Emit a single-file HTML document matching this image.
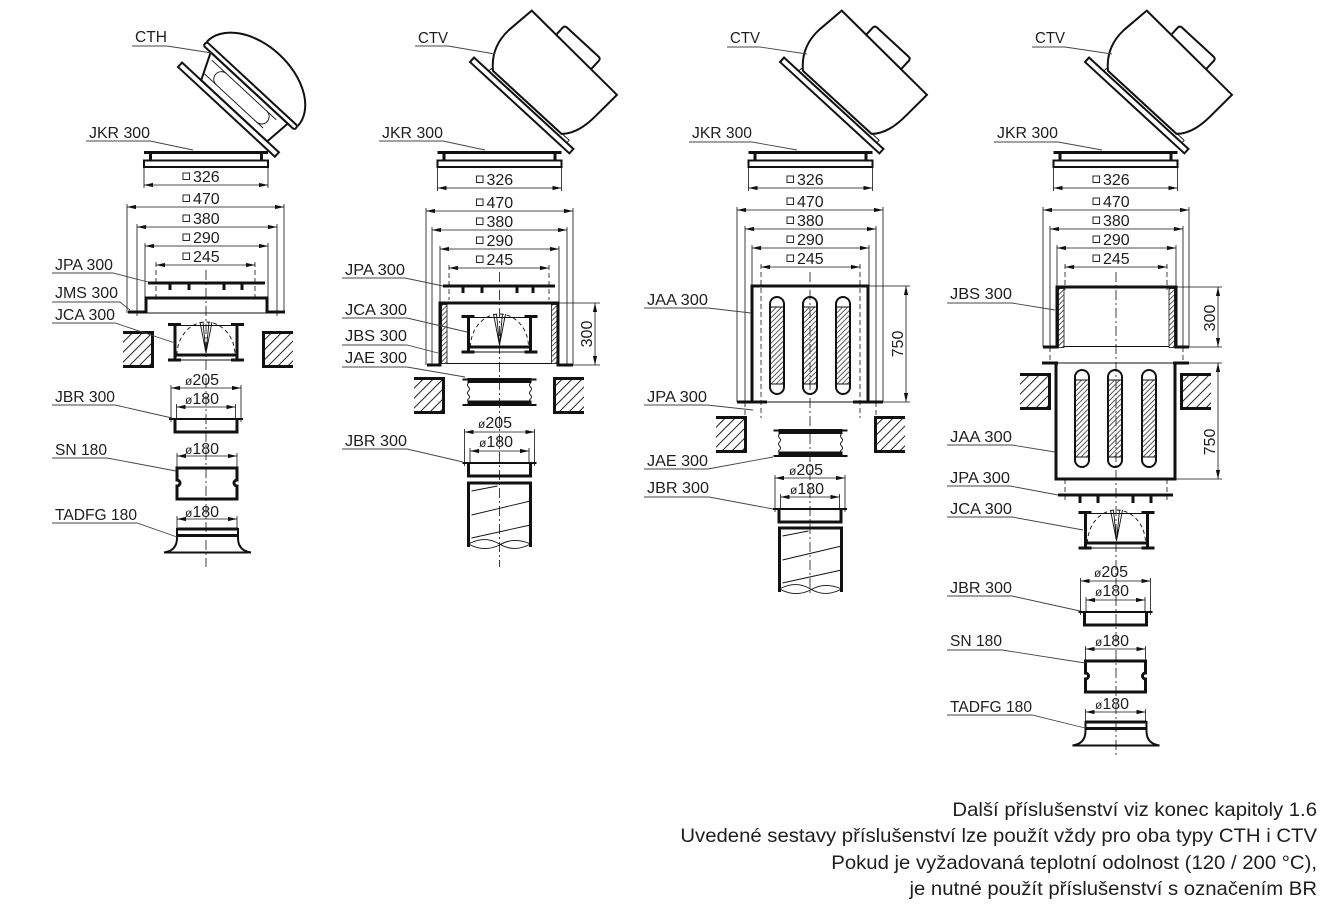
<!DOCTYPE html>
<html><head><meta charset="utf-8">
<style>
html,body{margin:0;padding:0;background:#fff;}
svg{display:block;}
text{font-family:"Liberation Sans",Arial,sans-serif;fill:#1e1e1e;}
.lbl{font-size:16px;}
.dm{font-size:16px;}
.th{stroke:#111;stroke-width:3;fill:none;}
.md{stroke:#111;stroke-width:2;fill:none;}
.tn{stroke:#111;stroke-width:0.9;fill:none;}
.ul{stroke:#444;stroke-width:0.9;fill:none;}
.dim{stroke:#111;stroke-width:0.8;fill:none;marker-start:url(#ar);marker-end:url(#ar);}
.ext{stroke:#111;stroke-width:0.8;fill:none;}
.dsh{stroke:#111;stroke-width:0.8;fill:none;stroke-dasharray:5 3;}
.cl{stroke:#111;stroke-width:0.8;fill:none;stroke-dasharray:10 3 2 3;}
.sq{fill:none;stroke:#111;stroke-width:0.9;}
</style></head><body>
<svg width="1326" height="911" viewBox="0 0 1326 911" xmlns="http://www.w3.org/2000/svg">
<defs>
<marker id="ar" viewBox="0 0 9 6" refX="9" refY="3" markerWidth="9" markerHeight="6" markerUnits="userSpaceOnUse" orient="auto-start-reverse"><path d="M0,0.9 L9,3 L0,5.1 Z" fill="#111"/></marker>
<pattern id="hw" patternUnits="userSpaceOnUse" width="7" height="7" patternTransform="rotate(45)"><line x1="1" y1="0" x2="1" y2="7" stroke="#222" stroke-width="1"/></pattern>
<pattern id="hs" patternUnits="userSpaceOnUse" width="3.6" height="3.6" patternTransform="rotate(45)"><line x1="1" y1="0" x2="1" y2="3.6" stroke="#333" stroke-width="0.8"/></pattern>

<g id="wallL"><rect x="0" y="0" width="31" height="37" fill="url(#hw)"/><path d="M0,1.5 H29.5 V35.5 H0" class="th"/></g>
<g id="wallR"><rect x="0" y="0" width="31" height="37" fill="url(#hw)"/><path d="M31,1.5 H1.5 V35.5 H31" class="th"/></g>

<g id="jkr">
 <rect x="-62" y="151" width="124" height="3" fill="#111"/>
 <rect x="-57" y="154" width="3" height="6" fill="#111"/>
 <rect x="54" y="154" width="3" height="6" fill="#111"/>
 <rect x="-62" y="160.5" width="124" height="6.5" class="md"/>
</g>

<g id="ctv">
 <path d="M23,-9 Q5,-25 7,-50 L10.7,-79.6 L130.4,-75.3 L129,-45 Q128,-20 116,-9 Z" class="md" fill="#fff"/>
 <path d="M45,-78.5 V-88 Q45,-91 48,-91 H91 Q94,-91 94,-88 V-77" class="md" fill="#fff"/>
 <path d="M20,-6 V-9.5 H126 V-6" class="tn" fill="#fff"/>
 <rect x="0" y="-6" width="135" height="6" class="md" fill="#fff"/>
</g>

<g id="jca">
 <path d="M-31,0 V38 M31,0 V38" class="th"/>
 <path d="M-38,1.5 H-25 M25,1.5 H38 M-38,37 H-25 M25,37 H38" class="th"/>
 <path d="M-31,2.5 H31 M-31,37 H31" class="tn"/>
 <path d="M-31,32 H31" class="th"/>
 <path d="M-29,32 A29,33 0 0 1 29,32" class="tn" stroke-dasharray="4 3"/>
 <path d="M-6,-1 L0,30 L6,-1 M-3,-1 L0,30 L3,-1" class="tn"/>
</g>

<g id="jbr">
 <line x1="-35" y1="-31" x2="35" y2="-31" class="dim"/>
 <path d="M-35,-34 V3 M35,-34 V3" class="ext"/>
 <line x1="-29.5" y1="-12" x2="29.5" y2="-12" class="dim"/>
 <path d="M-29.5,-15 V0 M29.5,-15 V0" class="ext"/>
 <path d="M-37,0 H37" class="md" stroke-width="2.5"/>
 <path d="M-31,0 V13 H31 V0" class="th"/>
</g>

<g id="sn">
 <line x1="-30" y1="-12" x2="30" y2="-12" class="dim"/>
 <path d="M-30,-15 V0 M30,-15 V0" class="ext"/>
 <path d="M-30,0 H30 V12 A3,3 0 0 0 30,18 V31 H-30 V18 A3,3 0 0 0 -30,12 Z" class="th"/>
</g>

<g id="tad">
 <line x1="-30" y1="-9" x2="30" y2="-9" class="dim"/>
 <path d="M-30,-12 V0 M30,-12 V0" class="ext"/>
 <path d="M-30,1 H31 M-30,7.5 H31" class="th"/>
 <path d="M-30,0 V10 M31,0 V10" class="md"/>
 <path d="M-30,10 C-30,20 -36,23.5 -43,24.5 H44 C37,23.5 31,20 31,10" class="md" stroke-width="2.6"/>
</g>

<g id="jae">
 <path d="M-37,1.5 H37" class="md"/>
 <rect x="-32" y="0" width="64" height="5" fill="#111"/>
 <path d="M-31,5 q-2,2 0,4 q2,2 0,4 q-2,2 0,4 q2,2 0,4 q-2,1 0,2 M31,5 q-2,2 0,4 q2,2 0,4 q-2,2 0,4 q2,2 0,4 q-2,1 0,2" class="tn"/>
 <rect x="-32" y="22.5" width="64" height="5" fill="#111"/>
 <path d="M-37,27 H37" class="md"/>
</g>

<g id="duct">
 <path d="M-31,64 V0 H31 V64" class="th"/>
 <path d="M-31,61 C-20,55 -10,55 0,61 C10,67 20,67 31,61" class="tn"/>
 <path d="M-31,61 C-20,67 -10,67 0,62 C10,56 20,56 31,61" class="tn"/>
 <path d="M-28,8 L-2,3 M-28,32 L31,18 M-28,55 L31,42" class="tn"/>
</g>

<g id="slot">
 <rect x="0" y="10" width="14" height="77" fill="url(#hs)"/>
 <path d="M0,7 A7,7 0 0 1 14,7 V90 A7,7 0 0 1 0,90 Z" class="md" stroke-width="1.3"/>
 <path d="M0,10 H14 M0,87 H14" class="tn"/>
</g>

<g id="strip"><rect x="0" y="0" width="5.5" height="59" fill="url(#hs)" stroke="#111" stroke-width="0.8"/></g>
</defs>

<!-- ================= COLUMN 1 ================= -->
<g transform="translate(178,67) rotate(42.8)">
 <path d="M26,-6 L14,-33 L119,-33 L116,-6 Z" class="md" fill="#fff"/>
 <path d="M24,-13 H104 M20,-28 H108" class="tn"/>
 <path d="M40,-13 A7,7 0 0 1 40,-28 M95,-13 A7,7 0 0 0 95,-28" class="tn"/>
 <path d="M4,-38 A62,40 0 0 1 128,-38" class="md" stroke-width="2.4" fill="#fff"/>
 <rect x="4" y="-38" width="124" height="5" rx="2" class="md" fill="#fff"/>
 <rect x="0" y="-6" width="132" height="6" class="md" fill="#fff"/>
</g>
<use href="#jkr" transform="translate(206,0)"/>

<line x1="144" y1="185" x2="268" y2="185" class="dim"/>
<path d="M144,167 V188 M268,167 V188" class="ext"/>
<rect x="183" y="173" width="6.5" height="6.5" class="sq"/><text x="193" y="182" class="dm">326</text>

<line x1="127" y1="207" x2="284" y2="207" class="dim"/>
<path d="M127,204 V313 M284,204 V313" class="ext"/>
<rect x="183" y="195" width="6.5" height="6.5" class="sq"/><text x="193" y="204" class="dm">470</text>

<line x1="137" y1="227" x2="277" y2="227" class="dim"/>
<path d="M137,224 V316 M277,224 V316" class="ext"/>
<rect x="183" y="215" width="6.5" height="6.5" class="sq"/><text x="193" y="224" class="dm">380</text>

<line x1="145" y1="246" x2="268" y2="246" class="dim"/>
<path d="M145,243 V298 M268,243 V298" class="ext"/>
<rect x="183" y="234" width="6.5" height="6.5" class="sq"/><text x="193" y="243" class="dm">290</text>

<line x1="156" y1="265" x2="255" y2="265" class="dim"/>
<path d="M156,262 V300 M255,262 V300" class="dsh"/>
<rect x="183" y="253" width="6.5" height="6.5" class="sq"/><text x="193" y="262" class="dm">245</text>

<line x1="206" y1="270" x2="206" y2="567" class="cl"/>

<rect x="148" y="281.5" width="117" height="3" fill="#111"/>
<rect x="168.5" y="284" width="3" height="6" fill="#111"/>
<rect x="187.5" y="284" width="3" height="6" fill="#111"/>
<rect x="222.5" y="284" width="3" height="6" fill="#111"/>
<rect x="240.5" y="284" width="3" height="6" fill="#111"/>
<polyline points="128,312 146,312 146,298 267,298 267,312 285,312" class="th"/>
<line x1="146" y1="313" x2="267" y2="313" class="tn"/>
<use href="#jca" transform="translate(206,323)"/>
<use href="#wallL" transform="translate(123,331)"/>
<use href="#wallR" transform="translate(262,331)"/>
<use href="#jbr" transform="translate(206,419)"/>
<text x="202" y="385" class="dm" text-anchor="middle"><tspan font-size="12">ø</tspan>205</text>
<text x="202" y="404" class="dm" text-anchor="middle"><tspan font-size="12">ø</tspan>180</text>
<use href="#sn" transform="translate(207,468)"/>
<text x="202" y="454" class="dm" text-anchor="middle"><tspan font-size="12">ø</tspan>180</text>
<use href="#tad" transform="translate(207,528)"/>
<text x="202" y="517" class="dm" text-anchor="middle"><tspan font-size="12">ø</tspan>180</text>

<text x="135" y="42" class="lbl" textLength="32" lengthAdjust="spacingAndGlyphs">CTH</text>
<polyline points="132,46 167,46 212,53" class="ul"/>
<text x="89" y="138" class="lbl" textLength="61" lengthAdjust="spacingAndGlyphs">JKR 300</text>
<polyline points="86,141 150,141 193,150" class="ul"/>
<text x="55" y="270" class="lbl" textLength="58" lengthAdjust="spacingAndGlyphs">JPA 300</text>
<polyline points="52,273 113,273 148,282" class="ul"/>
<text x="55" y="298" class="lbl" textLength="63" lengthAdjust="spacingAndGlyphs">JMS 300</text>
<polyline points="52,302 120,302 130,310" class="ul"/>
<text x="55" y="320" class="lbl" textLength="60" lengthAdjust="spacingAndGlyphs">JCA 300</text>
<polyline points="52,323 115,323 175,343" class="ul"/>
<text x="55" y="402" class="lbl" textLength="60" lengthAdjust="spacingAndGlyphs">JBR 300</text>
<polyline points="52,405 115,405 172,418" class="ul"/>
<text x="55" y="455" class="lbl" textLength="52" lengthAdjust="spacingAndGlyphs">SN 180</text>
<polyline points="52,458 107,458 176,471" class="ul"/>
<text x="55" y="520" class="lbl" textLength="82" lengthAdjust="spacingAndGlyphs">TADFG 180</text>
<polyline points="52,523 137,523 177,537" class="ul"/>

<!-- ================= COLUMN 2 ================= -->
<use href="#ctv" transform="translate(470,62) rotate(42.6)"/>
<use href="#jkr" transform="translate(499.5,0)"/>

<line x1="437.5" y1="188" x2="561.5" y2="188" class="dim"/>
<path d="M437.5,167 V191 M561.5,167 V191" class="ext"/>
<rect x="476.5" y="176" width="6.5" height="6.5" class="sq"/><text x="486.5" y="185" class="dm">326</text>

<line x1="426" y1="211" x2="573" y2="211" class="dim"/>
<path d="M426,208 V365 M573,208 V365" class="ext"/>
<rect x="476.5" y="199" width="6.5" height="6.5" class="sq"/><text x="486.5" y="208" class="dm">470</text>

<line x1="432" y1="230" x2="567" y2="230" class="dim"/>
<path d="M432,227 V365 M567,227 V365" class="ext"/>
<rect x="476.5" y="218" width="6.5" height="6.5" class="sq"/><text x="486.5" y="227" class="dm">380</text>

<line x1="440" y1="249" x2="559" y2="249" class="dim"/>
<path d="M440,246 V303 M559,246 V303" class="ext"/>
<rect x="476.5" y="237" width="6.5" height="6.5" class="sq"/><text x="486.5" y="246" class="dm">290</text>

<line x1="449" y1="268" x2="549" y2="268" class="dim"/>
<path d="M449,265 V300 M549,265 V300" class="dsh"/>
<rect x="476.5" y="256" width="6.5" height="6.5" class="sq"/><text x="486.5" y="265" class="dm">245</text>

<line x1="499.5" y1="272" x2="499.5" y2="567" class="cl"/>

<rect x="443" y="284.5" width="112" height="3" fill="#111"/>
<rect x="461.5" y="287" width="3" height="6" fill="#111"/>
<rect x="480.5" y="287" width="3" height="6" fill="#111"/>
<rect x="515.5" y="287" width="3" height="6" fill="#111"/>
<rect x="531.5" y="287" width="3" height="6" fill="#111"/>
<use href="#strip" transform="translate(441.5,304.5)"/>
<use href="#strip" transform="translate(551.5,304.5)"/>
<line x1="447" y1="363.5" x2="552" y2="363.5" class="tn"/>
<polyline points="427,365 440,365 440,303 558,303 558,365 573,365" class="th"/>
<line x1="595" y1="303" x2="595" y2="365" class="dim"/>
<path d="M558,303 H600 M573,365 H600" class="ext"/>
<text transform="translate(592,334) rotate(-90)" class="dm" text-anchor="middle">300</text>
<use href="#jca" transform="translate(499.5,315)"/>
<use href="#wallL" transform="translate(414,377)"/>
<use href="#wallR" transform="translate(553,377)"/>
<use href="#jae" transform="translate(499.5,378)"/>
<use href="#jbr" transform="translate(499.5,463)"/>
<text x="495" y="428" class="dm" text-anchor="middle"><tspan font-size="12">ø</tspan>205</text>
<text x="496" y="447" class="dm" text-anchor="middle"><tspan font-size="12">ø</tspan>180</text>
<use href="#duct" transform="translate(499.5,483)"/>

<text x="418" y="43" class="lbl" textLength="30" lengthAdjust="spacingAndGlyphs">CTV</text>
<polyline points="415,46 448,46 495,54" class="ul"/>
<text x="382" y="138" class="lbl" textLength="61" lengthAdjust="spacingAndGlyphs">JKR 300</text>
<polyline points="379,141 443,141 485,150" class="ul"/>
<text x="345" y="275" class="lbl" textLength="60" lengthAdjust="spacingAndGlyphs">JPA 300</text>
<polyline points="342,278 405,278 443,286" class="ul"/>
<text x="345" y="315" class="lbl" textLength="62" lengthAdjust="spacingAndGlyphs">JCA 300</text>
<polyline points="342,318 407,318 467,332" class="ul"/>
<text x="345" y="341" class="lbl" textLength="62" lengthAdjust="spacingAndGlyphs">JBS 300</text>
<polyline points="342,345 407,345 438,353" class="ul"/>
<text x="345" y="363" class="lbl" textLength="62" lengthAdjust="spacingAndGlyphs">JAE 300</text>
<polyline points="342,367 407,367 465,377" class="ul"/>
<text x="345" y="446" class="lbl" textLength="62" lengthAdjust="spacingAndGlyphs">JBR 300</text>
<polyline points="342,449 407,449 463,462" class="ul"/>

<!-- ================= COLUMN 3 ================= -->
<use href="#ctv" transform="translate(780,62) rotate(42.6)"/>
<use href="#jkr" transform="translate(810.5,0)"/>

<line x1="748.5" y1="188" x2="872.5" y2="188" class="dim"/>
<path d="M748.5,167 V191 M872.5,167 V191" class="ext"/>
<rect x="787" y="176" width="6.5" height="6.5" class="sq"/><text x="797" y="185" class="dm">326</text>

<line x1="737" y1="210" x2="883" y2="210" class="dim"/>
<path d="M737,207 V402 M883,207 V402" class="ext"/>
<rect x="787" y="198" width="6.5" height="6.5" class="sq"/><text x="797" y="207" class="dm">470</text>

<line x1="745" y1="229" x2="876" y2="229" class="dim"/>
<path d="M745,226 V402 M876,226 V402" class="ext"/>
<path d="M745,402 V418 M876,402 V418" class="dsh"/>
<rect x="787" y="217" width="6.5" height="6.5" class="sq"/><text x="797" y="226" class="dm">380</text>

<line x1="752" y1="248" x2="869" y2="248" class="dim"/>
<path d="M752,245 V286 M869,245 V286" class="ext"/>
<rect x="787" y="236" width="6.5" height="6.5" class="sq"/><text x="797" y="245" class="dm">290</text>

<line x1="761" y1="267" x2="860" y2="267" class="dim"/>
<path d="M761,264 V418 M860,264 V418" class="dsh"/>
<rect x="787" y="255" width="6.5" height="6.5" class="sq"/><text x="797" y="264" class="dm">245</text>

<line x1="810" y1="272" x2="810" y2="595" class="cl"/>

<use href="#slot" transform="translate(770,297)"/>
<use href="#slot" transform="translate(803,297)"/>
<use href="#slot" transform="translate(836,297)"/>
<path d="M752,402 V286 H868 V402" class="th"/>
<path d="M737,402 H767 M853,402 H883" class="th"/>
<line x1="767" y1="402" x2="853" y2="402" class="tn"/>
<line x1="906" y1="286" x2="906" y2="402" class="dim"/>
<path d="M868,286 H910 M883,402 H910" class="ext"/>
<text transform="translate(903,344) rotate(-90)" class="dm" text-anchor="middle">750</text>

<use href="#wallL" transform="translate(716,416)"/>
<use href="#wallR" transform="translate(874,416)"/>
<use href="#jae" transform="translate(810.5,429)"/>
<use href="#jbr" transform="translate(810,509)"/>
<text x="806" y="475" class="dm" text-anchor="middle"><tspan font-size="12">ø</tspan>205</text>
<text x="807" y="494" class="dm" text-anchor="middle"><tspan font-size="12">ø</tspan>180</text>
<use href="#duct" transform="translate(810.5,528)"/>

<text x="730" y="43" class="lbl" textLength="30" lengthAdjust="spacingAndGlyphs">CTV</text>
<polyline points="727,47 760,47 807,54" class="ul"/>
<text x="692" y="138" class="lbl" textLength="60" lengthAdjust="spacingAndGlyphs">JKR 300</text>
<polyline points="689,142 752,142 797,150" class="ul"/>
<text x="647" y="305" class="lbl" textLength="61" lengthAdjust="spacingAndGlyphs">JAA 300</text>
<polyline points="644,308 708,308 751,313" class="ul"/>
<text x="647" y="402" class="lbl" textLength="60" lengthAdjust="spacingAndGlyphs">JPA 300</text>
<polyline points="644,405 707,405 753,410" class="ul"/>
<text x="647" y="466" class="lbl" textLength="61" lengthAdjust="spacingAndGlyphs">JAE 300</text>
<polyline points="644,469 708,469 773,457" class="ul"/>
<text x="647" y="493" class="lbl" textLength="62" lengthAdjust="spacingAndGlyphs">JBR 300</text>
<polyline points="644,497 709,497 773,509" class="ul"/>

<!-- ================= COLUMN 4 ================= -->
<use href="#ctv" transform="translate(1085,62) rotate(42.6)"/>
<use href="#jkr" transform="translate(1115.5,0)"/>

<line x1="1053.5" y1="188" x2="1177.5" y2="188" class="dim"/>
<path d="M1053.5,167 V191 M1177.5,167 V191" class="ext"/>
<rect x="1093" y="176" width="6.5" height="6.5" class="sq"/><text x="1103" y="185" class="dm">326</text>

<line x1="1043" y1="210" x2="1189" y2="210" class="dim"/>
<path d="M1043,207 V347 M1189,207 V347" class="ext"/>
<rect x="1093" y="198" width="6.5" height="6.5" class="sq"/><text x="1103" y="207" class="dm">470</text>

<line x1="1050" y1="229" x2="1183" y2="229" class="dim"/>
<path d="M1050,226 V347 M1183,226 V347" class="ext"/>
<path d="M1050,347 V363 M1183,347 V363" class="dsh"/>
<rect x="1093" y="217" width="6.5" height="6.5" class="sq"/><text x="1103" y="226" class="dm">380</text>

<line x1="1057" y1="248" x2="1176" y2="248" class="dim"/>
<path d="M1057,245 V287 M1176,245 V287" class="ext"/>
<rect x="1093" y="236" width="6.5" height="6.5" class="sq"/><text x="1103" y="245" class="dm">290</text>

<line x1="1065" y1="267" x2="1167" y2="267" class="dim"/>
<path d="M1065,264 V290 M1167,264 V290 M1065,479 V502 M1167,479 V502" class="dsh"/>
<rect x="1093" y="255" width="6.5" height="6.5" class="sq"/><text x="1103" y="264" class="dm">245</text>

<line x1="1116" y1="272" x2="1116" y2="757" class="cl"/>

<use href="#strip" transform="translate(1058.5,288.5)"/>
<use href="#strip" transform="translate(1169,288.5)"/>
<line x1="1064" y1="346.5" x2="1169" y2="346.5" class="tn"/>
<polyline points="1043,347 1057,347 1057,287 1176,287 1176,347 1189,347" class="th"/>
<line x1="1218" y1="287" x2="1218" y2="347" class="dim"/>
<path d="M1176,287 H1222 M1189,347 H1222" class="ext"/>
<text transform="translate(1215,318) rotate(-90)" class="dm" text-anchor="middle">300</text>

<use href="#slot" transform="translate(1075,370)"/>
<use href="#slot" transform="translate(1108,370)"/>
<use href="#slot" transform="translate(1142,370)"/>
<line x1="1058" y1="363" x2="1173" y2="363" class="tn"/>
<path d="M1042,363 H1058 M1173,363 H1189" class="th"/>
<path d="M1056,363 V479 H1175 V363" class="th"/>
<use href="#wallL" transform="translate(1020,373)"/>
<use href="#wallR" transform="translate(1180,373)"/>
<line x1="1218" y1="363" x2="1218" y2="479" class="dim"/>
<path d="M1189,363 H1222 M1175,479 H1222" class="ext"/>
<text transform="translate(1215,442) rotate(-90)" class="dm" text-anchor="middle">750</text>

<rect x="1058" y="493.5" width="115" height="3" fill="#111"/>
<rect x="1078.5" y="496" width="3" height="7" fill="#111"/>
<rect x="1096.5" y="496" width="3" height="7" fill="#111"/>
<rect x="1131.5" y="496" width="3" height="7" fill="#111"/>
<rect x="1149.5" y="496" width="3" height="7" fill="#111"/>

<use href="#jca" transform="translate(1116.5,511)"/>
<use href="#jbr" transform="translate(1115.5,612)"/>
<text x="1111" y="577" class="dm" text-anchor="middle"><tspan font-size="12">ø</tspan>205</text>
<text x="1112" y="596" class="dm" text-anchor="middle"><tspan font-size="12">ø</tspan>180</text>
<use href="#sn" transform="translate(1115.5,661)"/>
<text x="1112" y="646" class="dm" text-anchor="middle"><tspan font-size="12">ø</tspan>180</text>
<use href="#tad" transform="translate(1115.5,721)"/>
<text x="1112" y="709" class="dm" text-anchor="middle"><tspan font-size="12">ø</tspan>180</text>

<text x="1035" y="43" class="lbl" textLength="30" lengthAdjust="spacingAndGlyphs">CTV</text>
<polyline points="1032,47 1065,47 1112,54" class="ul"/>
<text x="997" y="138" class="lbl" textLength="61" lengthAdjust="spacingAndGlyphs">JKR 300</text>
<polyline points="994,142 1058,142 1102,150" class="ul"/>
<text x="950" y="299" class="lbl" textLength="62" lengthAdjust="spacingAndGlyphs">JBS 300</text>
<polyline points="947,303 1012,303 1055,310" class="ul"/>
<text x="950" y="442" class="lbl" textLength="62" lengthAdjust="spacingAndGlyphs">JAA 300</text>
<polyline points="947,445 1012,445 1055,452" class="ul"/>
<text x="950" y="483" class="lbl" textLength="60" lengthAdjust="spacingAndGlyphs">JPA 300</text>
<polyline points="947,486 1010,486 1058,495" class="ul"/>
<text x="950" y="514" class="lbl" textLength="62" lengthAdjust="spacingAndGlyphs">JCA 300</text>
<polyline points="947,517 1012,517 1083,530" class="ul"/>
<text x="950" y="593" class="lbl" textLength="62" lengthAdjust="spacingAndGlyphs">JBR 300</text>
<polyline points="947,596 1012,596 1080,611" class="ul"/>
<text x="950" y="646" class="lbl" textLength="52" lengthAdjust="spacingAndGlyphs">SN 180</text>
<polyline points="947,650 1002,650 1085,663" class="ul"/>
<text x="950" y="712" class="lbl" textLength="82" lengthAdjust="spacingAndGlyphs">TADFG 180</text>
<polyline points="947,715 1032,715 1085,728" class="ul"/>

<!-- ================= NOTES ================= -->
<g transform="translate(1317,0) scale(1.07,1)">
 <text x="0" y="816" font-size="19" text-anchor="end" fill="#222">Další příslušenství viz konec kapitoly 1.6</text>
 <text x="0" y="842" font-size="19" text-anchor="end" fill="#222">Uvedené sestavy příslušenství lze použít vždy pro oba typy CTH i CTV</text>
 <text x="0" y="869" font-size="19" text-anchor="end" fill="#222">Pokud je vyžadovaná teplotní odolnost (120 / 200 °C),</text>
 <text x="0" y="895" font-size="19" text-anchor="end" fill="#222">je nutné použít příslušenství s označením BR</text>
</g>
</svg>
</body></html>
